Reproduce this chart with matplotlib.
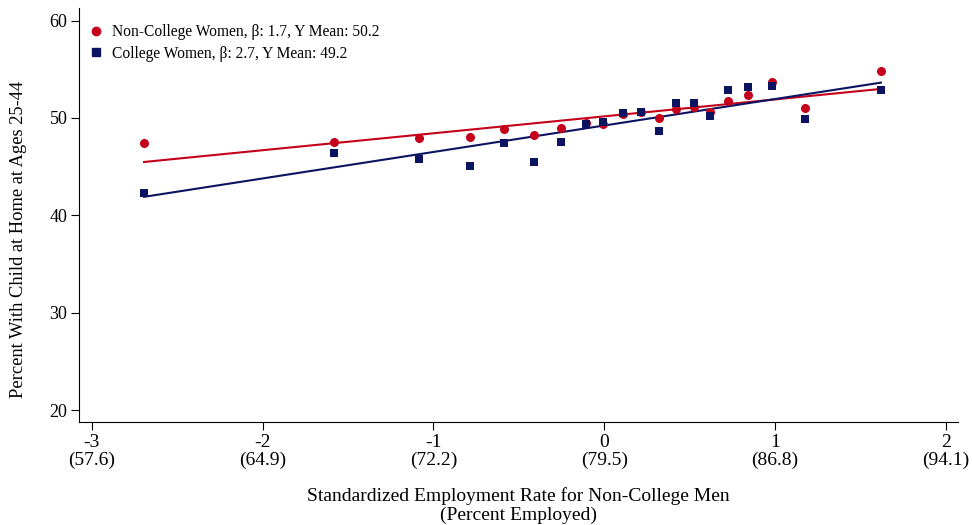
import matplotlib
matplotlib.use("Agg")
import matplotlib.pyplot as plt
import numpy as np
from matplotlib.lines import Line2D

# ---- data ----
x_vals = [-2.694, -1.583, -1.084, -0.788, -0.589, -0.413, -0.253, -0.109, -0.009,
          0.109, 0.215, 0.322, 0.420, 0.525, 0.620, 0.722, 0.841, 0.980, 1.176, 1.619]
noncollege_women = [47.40, 47.56, 47.98, 48.05, 48.90, 48.28, 48.97, 49.46, 49.35,
                    50.41, 50.65, 50.00, 50.96, 51.10, 50.59, 51.78, 52.39, 53.73, 51.00, 54.86]
college_women = [42.32, 46.43, 45.82, 45.10, 47.46, 45.51, 47.56, 49.38, 49.62,
                 50.48, 50.65, 48.69, 51.57, 51.57, 50.24, 52.91, 53.22, 53.32, 49.90, 52.91]
fit_noncollege = (1.74, 50.17)   # slope, intercept
fit_college = (2.72, 49.23)
x_ticks = [-3, -2, -1, 0, 1, 2]
x_pct = ["57.6", "64.9", "72.2", "79.5", "86.8", "94.1"]
y_ticks = [20, 30, 40, 50, 60]
label_nc = "Non-College Women, β: 1.7, Y Mean: 50.2"
label_c = "College Women, β: 2.7, Y Mean: 49.2"

RED = "#c4001a"
NAVY = "#0c1461"

plt.rcParams['font.family'] = ['Liberation Serif', 'DejaVu Serif']

W, H = 972, 525
fig = plt.figure(figsize=(W / 100, H / 100), dpi=100)
L, R, B, T = 79.3, 958, 422.3, 8
ax = fig.add_axes([L / W, 1 - B / H, (R - L) / W, (B - T) / H])

xs = np.array(x_vals)
ax.scatter(xs, noncollege_women, s=6.5**2, marker='o', color=RED, linewidths=0, zorder=3)
ax.scatter(xs, college_women, s=6.0**2, marker='s', color=NAVY, linewidths=0, zorder=3)

xl = np.array([xs.min(), xs.max()])
ax.plot(xl, fit_noncollege[0] * xl + fit_noncollege[1], color=RED, lw=1.5, zorder=2)
ax.plot(xl, fit_college[0] * xl + fit_college[1], color=NAVY, lw=1.5, zorder=2)

ax.set_xlim(-3.073, 2.07)
ax.set_ylim(18.74, 61.3)
ax.set_xticks(x_ticks)
ax.set_xticklabels([f"{t}\n({p})" for t, p in zip(x_ticks, x_pct)], fontsize=14, linespacing=1.05)
ax.set_yticks(y_ticks)
ax.set_yticklabels([str(v) for v in y_ticks], fontsize=13)
ax.tick_params(axis='both', direction='out', length=5.5, width=0.8, color='black', pad=3)

for s in ['top', 'right']:
    ax.spines[s].set_visible(False)
for s in ['left', 'bottom']:
    ax.spines[s].set_linewidth(0.8)

ax.set_xlabel("Standardized Employment Rate for Non-College Men\n(Percent Employed)",
              fontsize=14, linespacing=1.12)
ax.xaxis.set_label_coords(0.5, -(524 - B) / (B - T), transform=ax.transAxes)
ax.xaxis.label.set_va('bottom')
ax.set_ylabel("Percent With Child at Home at Ages 25-44", fontsize=13.3)
ax.yaxis.label.set_va('center')
ax.yaxis.set_label_coords(-(L - 18) / (R - L), (B - 239) / (B - T))

handles = [Line2D([], [], marker='o', color=RED, linestyle='none', markersize=6),
           Line2D([], [], marker='s', color=NAVY, linestyle='none', markersize=5.5)]
leg = ax.legend(handles, [label_nc, label_c], loc='upper left',
                bbox_to_anchor=(90 / W, 1 - 24 / H), bbox_transform=fig.transFigure,
                frameon=False, fontsize=11.2, handlelength=0.8, handletextpad=0.6,
                labelspacing=0.36, borderaxespad=0, borderpad=0)

fig.savefig("out.png", dpi=100)
